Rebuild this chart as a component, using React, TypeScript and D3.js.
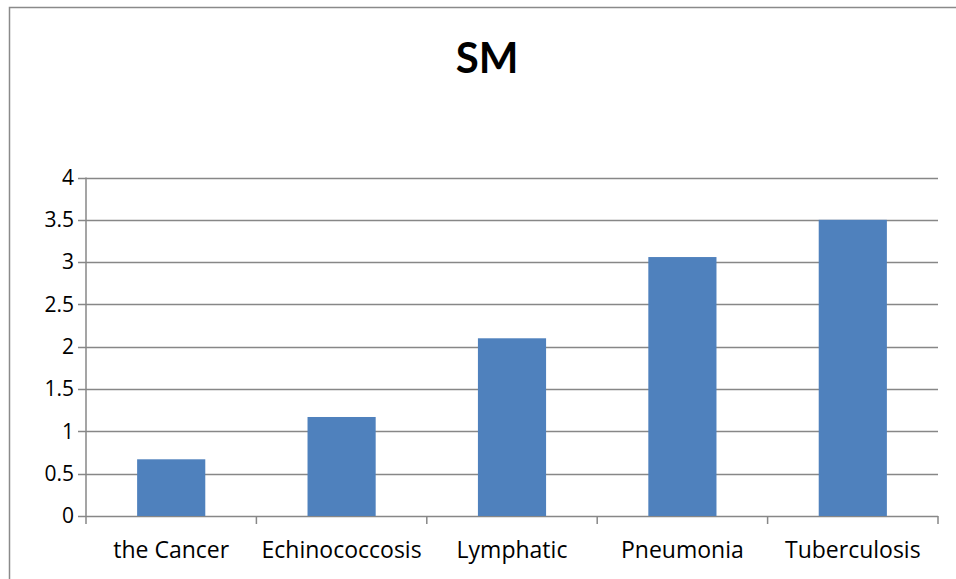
import React from "react";
import * as d3 from "d3";

const categories = ["the Cancer", "Echinococcosis", "Lymphatic", "Pneumonia", "Tuberculosis"];
const values = [0.67, 1.17, 2.1, 3.06, 3.5];
const yTicks = [0, 0.5, 1, 1.5, 2, 2.5, 3, 3.5, 4];
const title = "SM";

export default function App() {
  const W = 956, H = 579;
  const left = 86, right = 938, top = 177.5, bottom = 516;
  const x = d3.scaleBand<string>().domain(categories).range([left, right]).paddingInner(0.6).paddingOuter(0.3);
  const y = d3.scaleLinear().domain([0, 4]).range([bottom, top]);
  const step = x.step();
  const font = "'Open Sans', Lato, sans-serif";
  const grid = "#878787";
  return (
    <svg width={W} height={H} style={{ position: "absolute", left: 0, top: 0, background: "#fff" }}>
      <rect x={0} y={0} width={W} height={H} fill="#fff" />
      <path d={`M9.5,${H} V7.5 H${W}`} fill="none" stroke="#8a8a8a" strokeWidth={1.5} />
      <text x={487} y={73} textAnchor="middle" fontFamily="Lato, sans-serif" fontWeight="bold" fontSize={42} fill="#000">{title}</text>
      {yTicks.map((t) => (
        <g key={t}>
          <line x1={78} x2={right} y1={Math.round(y(t)) + 0.5} y2={Math.round(y(t)) + 0.5} stroke={grid} strokeWidth={1.5} />
          <text x={74} y={y(t)} dy="0.35em" textAnchor="end" fontFamily={font} fontSize={21} fill="#000">{t}</text>
        </g>
      ))}
      <line x1={left} x2={left} y1={top} y2={bottom + 8} stroke={grid} strokeWidth={1.5} />
      {categories.map((c, i) => (
        <line key={c} x1={left + step * (i + 1)} x2={left + step * (i + 1)} y1={bottom} y2={bottom + 8} stroke={grid} strokeWidth={1.5} />
      ))}
      {categories.map((c, i) => (
        <rect key={c} x={x(c)} y={y(values[i])} width={x.bandwidth()} height={bottom - y(values[i])} fill="#4f81bd" />
      ))}
      {categories.map((c) => (
        <text key={c} x={(x(c) as number) + x.bandwidth() / 2} y={558} textAnchor="middle" fontFamily={font} fontSize={23} fill="#000">{c}</text>
      ))}
    </svg>
  );
}
